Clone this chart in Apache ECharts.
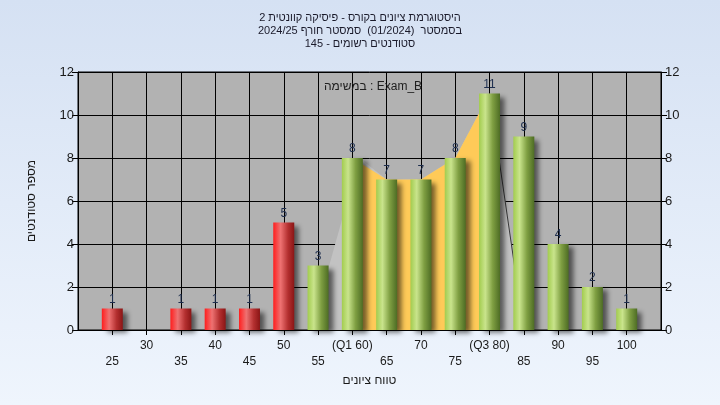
<!DOCTYPE html>
<html>
<head>
<meta charset="utf-8">
<script src="https://cdn.jsdelivr.net/npm/echarts@6/dist/echarts.min.js"></script>
<style>
html,body{margin:0;padding:0;width:720px;height:405px;overflow:hidden;}
#c{width:720px;height:405px;}
</style>
</head>
<body>
<div id="c"></div>
<script>
// ---- data ----
const bins = [25,30,35,40,45,50,55,60,65,70,75,80,85,90,95,100];
const counts = [1,0,1,1,1,5,3,8,7,7,8,11,9,4,2,1];
const passMark = 55;
const q1 = 60;
const q3 = 80;
const specialTicks = [60, 80];
const specialNames = ['(Q1 60)', '(Q3 80)'];
const shadeX = [54, 61, 65, 70, 75, 80, 85];
const shadeY = [0, 8, 7, 7, 8, 11, 0];
const dropX = [80, 85];
const dropY = [11, 0];
const titleLines = [
  'היסטוגרמת ציונים בקורס - פיסיקה קוונטית 2',
  'בסמסטר  (01/2024)  סמסטר חורף 2024/25',
  'סטודנטים רשומים - 145'
];
const examLabel = 'במשימה : Exam_B';
const xName = 'טווח ציונים';
const yName = 'מספר סטודנטים';

// ---- styles ----
const FONT = 'Liberation Sans';
const TEXT = '#1a1a1a';
const redGrad = {type:'linear',x:0,y:0,x2:1,y2:0,colorStops:[
  {offset:0,color:'#ff1e1e'},{offset:0.35,color:'#ee7272'},{offset:0.7,color:'#b43030'},{offset:1,color:'#8a1515'}]};
const greenGrad = {type:'linear',x:0,y:0,x2:1,y2:0,colorStops:[
  {offset:0,color:'#a2cc4e'},{offset:0.3,color:'#c9e48c'},{offset:0.65,color:'#7f9f42'},{offset:1,color:'#4d6c24'}]};

const barData = bins.map((b,i)=>({
  value:[b, counts[i]],
  itemStyle:{color: b < passMark ? redGrad : greenGrad}
}));
const iqrData = bins.map((b,i)=>[b,counts[i]]).filter(p=>p[0]>=q1 && p[0]<=q3);
const shadeData = shadeX.map((x,i)=>[x, shadeY[i]]);
const dropData = dropX.map((x,i)=>[x, dropY[i]]);

const chart = echarts.init(document.getElementById('c'));
const yAxisCommon = {
  type:'value', min:0, max:12, interval:2,
  axisLine:{show:true,lineStyle:{color:'#000',width:1}},
  axisTick:{show:true,length:6,lineStyle:{color:'#000'}},
  axisLabel:{color:TEXT,fontSize:13,fontFamily:FONT,margin:4},
  splitLine:{show:false}
};
chart.setOption({
  animation:false,
  backgroundColor:{type:'linear',x:0,y:0,x2:0,y2:1,colorStops:[
    {offset:0,color:'#d5e1f3'},{offset:1,color:'#eff5fd'}]},
  title:[{
    text: titleLines.join('\n'),
    left:'center', top:6,
    textStyle:{fontSize:11,fontWeight:'normal',color:'#1a1a2a',fontFamily:FONT,lineHeight:13}
  },{
    text: examLabel,
    left:368, top:76, textAlign:'center',
    textStyle:{fontSize:12,fontWeight:'normal',color:'#202020',fontFamily:FONT}
  }],
  grid:{left:78,right:59,top:72,bottom:75,show:true,backgroundColor:'#b2b2b2',borderColor:'#000',borderWidth:1},
  xAxis:{
    type:'value', min:20, max:105, interval:5,
    name:xName, nameLocation:'middle', nameGap:45,
    nameTextStyle:{fontSize:12,color:TEXT,fontFamily:FONT},
    axisLine:{show:true,lineStyle:{color:'#000'}},
    axisTick:{show:true,length:5,lineStyle:{color:'#000'}},
    axisLabel:{
      fontSize:12,color:TEXT,fontFamily:FONT,margin:8,lineHeight:16,
      showMinLabel:false, showMaxLabel:false,
      formatter:function(v){
        if (v < bins[0] || v > bins[bins.length-1]) return '';
        const k = specialTicks.indexOf(v);
        const s = k >= 0 ? specialNames[k] : String(v);
        return (v % 10 === 5) ? '\n' + s : s;
      }
    },
    splitLine:{show:true,lineStyle:{color:'#000',width:1}}
  },
  yAxis:[
    Object.assign({}, yAxisCommon, {
      position:'left',
      name:yName, nameLocation:'middle', nameGap:40, nameRotate:90,
      nameTextStyle:{fontSize:12,color:TEXT,fontFamily:FONT},
      splitLine:{show:true,lineStyle:{color:'#000',width:1}}
    }),
    Object.assign({}, yAxisCommon, {position:'right'})
  ],
  series:[
    {
      type:'line', data:shadeData, symbol:'none', silent:true,
      lineStyle:{width:0}, areaStyle:{color:'#c2c2c2',opacity:1}, z:1
    },
    {
      type:'line', data:iqrData, symbol:'none', silent:true,
      lineStyle:{width:0}, areaStyle:{color:'#ffca58',opacity:1}, z:2
    },
    {
      type:'line', data:dropData, symbol:'none', silent:true,
      lineStyle:{width:1,color:'#3a3a3a'}, z:2
    },
    {
      type:'bar', data:barData, barWidth:21, z:3,
      itemStyle:{shadowBlur:5,shadowOffsetX:5,shadowOffsetY:3,shadowColor:'rgba(0,0,0,0.55)'},
      label:{show:true,position:'top',distance:3,fontSize:12,color:'#1e2e4e',fontFamily:FONT,
        formatter:function(p){return p.value[1] ? String(p.value[1]) : '';}}
    }
  ]
});
</script>
</body>
</html>
